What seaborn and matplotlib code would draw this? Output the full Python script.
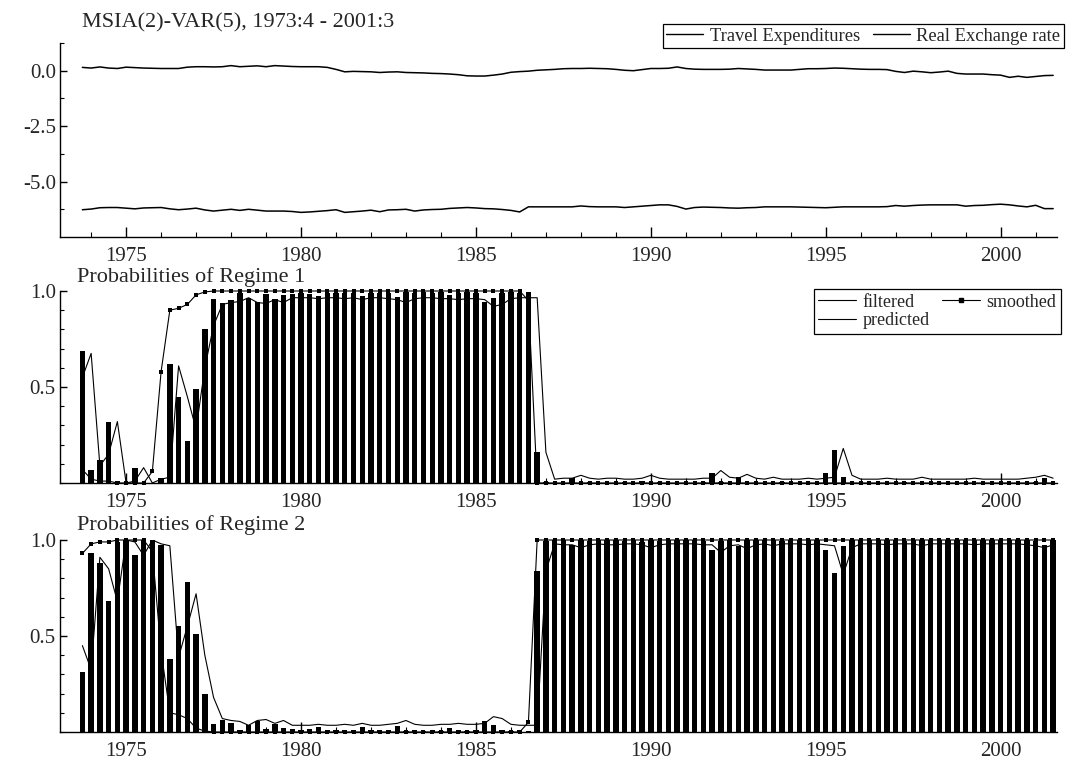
import numpy as np
import pandas as pd
import matplotlib
matplotlib.use("Agg")
import matplotlib.pyplot as plt
import seaborn as sns
from matplotlib.lines import Line2D
from matplotlib.ticker import MultipleLocator, FixedLocator, FixedFormatter

# ---------------- data (quarterly, 1973:4 - 2001:3) ----------------
first_quarter = 1973.75
n_quarters = 112
quarters = first_quarter + 0.25 * np.arange(n_quarters)

year_ticks = [1975, 1980, 1985, 1990, 1995, 2000]
year_labels = ["1975", "1980", "1985", "1990", "1995", "2000"]

real_exchange = [
    0.15,
    0.12, 0.17, 0.12, 0.10,
    0.16, 0.14, 0.12, 0.11,
    0.10, 0.10, 0.10, 0.16,
    0.18, 0.18, 0.17, 0.18,
    0.23, 0.18, 0.20, 0.22,
    0.18, 0.23, 0.21, 0.19,
    0.18, 0.18, 0.18, 0.15,
    0.06, -0.05, -0.03, -0.04,
    -0.05, -0.08, -0.06, -0.05,
    -0.08, -0.09, -0.10, -0.12,
    -0.13, -0.15, -0.18, -0.23,
    -0.24, -0.24, -0.20, -0.15,
    -0.07, -0.04, -0.02, 0.02,
    0.04, 0.06, 0.09, 0.10,
    0.10, 0.11, 0.10, 0.09,
    0.06, 0.02, 0.00, 0.05,
    0.10, 0.10, 0.11, 0.17,
    0.10, 0.07, 0.06, 0.06,
    0.06, 0.07, 0.10, 0.08,
    0.06, 0.03, 0.03, 0.03,
    0.03, 0.06, 0.09, 0.09,
    0.10, 0.12, 0.11, 0.09,
    0.07, 0.06, 0.06, 0.05,
    -0.03, -0.08, -0.02, -0.05,
    -0.09, -0.06, -0.02, -0.12,
    -0.15, -0.15, -0.15, -0.18,
    -0.20, -0.30, -0.25, -0.30,
    -0.26, -0.22, -0.21,
]

travel_exp = [
    -6.27,
    -6.24, -6.18, -6.17, -6.17,
    -6.20, -6.23, -6.19, -6.18,
    -6.17, -6.23, -6.27, -6.24,
    -6.20, -6.28, -6.33, -6.29,
    -6.25, -6.30, -6.25, -6.29,
    -6.33, -6.33, -6.33, -6.35,
    -6.39, -6.37, -6.34, -6.31,
    -6.27, -6.39, -6.36, -6.33,
    -6.29, -6.36, -6.28, -6.27,
    -6.25, -6.33, -6.28, -6.26,
    -6.25, -6.21, -6.19, -6.17,
    -6.19, -6.22, -6.23, -6.26,
    -6.30, -6.37, -6.14, -6.14,
    -6.14, -6.14, -6.14, -6.14,
    -6.10, -6.13, -6.14, -6.14,
    -6.14, -6.17, -6.14, -6.11,
    -6.08, -6.05, -6.05, -6.12,
    -6.24, -6.17, -6.15, -6.16,
    -6.17, -6.19, -6.20, -6.18,
    -6.17, -6.14, -6.14, -6.14,
    -6.14, -6.15, -6.16, -6.17,
    -6.18, -6.16, -6.14, -6.14,
    -6.14, -6.14, -6.14, -6.13,
    -6.08, -6.11, -6.08, -6.06,
    -6.05, -6.05, -6.05, -6.05,
    -6.11, -6.08, -6.07, -6.04,
    -6.02, -6.05, -6.10, -6.14,
    -6.07, -6.22, -6.22,
]

r1_filtered = [
    0.69,
    0.07, 0.12, 0.32, 0.01,
    0.00, 0.08, 0.00, 0.00,
    0.025, 0.62, 0.45, 0.22,
    0.49, 0.80, 0.96, 0.94,
    0.955, 0.99, 0.965, 0.945,
    0.985, 0.96, 0.98, 0.985,
    0.99, 0.985, 0.975, 0.99,
    0.99, 0.99, 0.99, 0.975,
    0.99, 0.99, 0.99, 0.97,
    0.995, 0.99, 0.995, 0.99,
    0.995, 0.98, 0.99, 0.995,
    0.99, 0.945, 0.965, 0.99,
    0.995, 0.99, 0.995, 0.16,
    0.005, 0.0, 0.0, 0.025,
    0.0, 0.005, 0.0, 0.0,
    0.0, 0.005, 0.0, 0.01,
    0.0, 0.005, 0.0, 0.0,
    0.0, 0.0, 0.005, 0.05,
    0.005, 0.0, 0.03, 0.0,
    0.0, 0.0, 0.0, 0.005,
    0.0, 0.0, 0.0, 0.0,
    0.05, 0.17, 0.03, 0.0,
    0.0, 0.0, 0.0, 0.0,
    0.0, 0.005, 0.0, 0.0,
    0.0, 0.0, 0.0, 0.0,
    0.0, 0.0, 0.0, 0.0,
    0.0, 0.0, 0.0, 0.0,
    0.005, 0.025, 0.0,
]

r1_predicted = [
    0.55,
    0.675, 0.09, 0.15, 0.32,
    0.0, 0.01, 0.08, 0.0,
    0.02, 0.03, 0.61, 0.45,
    0.28, 0.60, 0.82, 0.93,
    0.94, 0.945, 0.965, 0.94,
    0.935, 0.955, 0.94, 0.965,
    0.965, 0.965, 0.96, 0.965,
    0.965, 0.96, 0.965, 0.955,
    0.965, 0.965, 0.96, 0.955,
    0.94, 0.96, 0.965, 0.965,
    0.96, 0.96, 0.955, 0.96,
    0.96, 0.955, 0.92, 0.93,
    0.96, 0.965, 0.965, 0.965,
    0.16, 0.02, 0.025, 0.025,
    0.04, 0.025, 0.02, 0.025,
    0.025, 0.02, 0.02, 0.025,
    0.04, 0.025, 0.02, 0.02,
    0.02, 0.02, 0.025, 0.025,
    0.065, 0.03, 0.025, 0.045,
    0.025, 0.02, 0.03, 0.02,
    0.02, 0.02, 0.025, 0.02,
    0.025, 0.03, 0.18, 0.04,
    0.02, 0.02, 0.02, 0.025,
    0.02, 0.02, 0.02, 0.03,
    0.02, 0.02, 0.02, 0.02,
    0.02, 0.025, 0.02, 0.02,
    0.02, 0.02, 0.02, 0.025,
    0.03, 0.04, 0.025,
]

r1_smoothed = [
    0.07,
    0.02, 0.01, 0.01, 0.0,
    0.0, 0.0, 0.0, 0.06,
    0.58, 0.90, 0.91, 0.93,
    0.98, 0.995, 1.0, 1.0,
    1.0, 1.0, 1.0, 1.0,
    1.0, 1.0, 1.0, 1.0,
    1.0, 1.0, 1.0, 1.0,
    1.0, 1.0, 1.0, 1.0,
    1.0, 1.0, 1.0, 1.0,
    1.0, 1.0, 1.0, 1.0,
    1.0, 1.0, 1.0, 1.0,
    1.0, 1.0, 1.0, 1.0,
    1.0, 1.0, 0.95, 0.0,
    0.0, 0.0, 0.0, 0.0,
    0.0, 0.0, 0.0, 0.0,
    0.0, 0.0, 0.0, 0.0,
    0.0, 0.0, 0.0, 0.0,
    0.0, 0.0, 0.0, 0.0,
    0.0, 0.0, 0.0, 0.0,
    0.0, 0.0, 0.0, 0.0,
    0.0, 0.0, 0.0, 0.0,
    0.0, 0.0, 0.0, 0.0,
    0.0, 0.0, 0.0, 0.0,
    0.0, 0.0, 0.0, 0.0,
    0.0, 0.0, 0.0, 0.0,
    0.0, 0.0, 0.0, 0.0,
    0.0, 0.0, 0.0, 0.0,
    0.0, 0.0, 0.0,
]

r2_filtered = [
    0.31,
    0.93, 0.88, 0.68, 0.99,
    1.0, 0.92, 1.0, 1.0,
    0.975, 0.38, 0.55, 0.78,
    0.51, 0.20, 0.04, 0.06,
    0.045, 0.01, 0.035, 0.055,
    0.015, 0.04, 0.02, 0.015,
    0.01, 0.015, 0.025, 0.01,
    0.01, 0.01, 0.01, 0.025,
    0.01, 0.01, 0.01, 0.03,
    0.005, 0.01, 0.005, 0.01,
    0.005, 0.02, 0.01, 0.005,
    0.01, 0.055, 0.035, 0.01,
    0.005, 0.01, 0.005, 0.84,
    0.995, 1.0, 1.0, 0.975,
    1.0, 0.995, 1.0, 1.0,
    1.0, 0.995, 1.0, 0.99,
    1.0, 0.995, 1.0, 1.0,
    1.0, 1.0, 0.995, 0.95,
    0.995, 1.0, 0.97, 1.0,
    1.0, 1.0, 1.0, 0.995,
    1.0, 1.0, 1.0, 1.0,
    0.95, 0.83, 0.97, 1.0,
    1.0, 1.0, 1.0, 1.0,
    1.0, 0.995, 1.0, 1.0,
    1.0, 1.0, 1.0, 1.0,
    1.0, 1.0, 1.0, 1.0,
    1.0, 1.0, 1.0, 1.0,
    0.995, 0.975, 1.0,
]

r2_predicted = [
    0.45,
    0.325, 0.91, 0.85, 0.68,
    1.0, 0.99, 0.92, 1.0,
    0.98, 0.97, 0.39, 0.55,
    0.72, 0.40, 0.18, 0.07,
    0.06, 0.055, 0.035, 0.06,
    0.065, 0.045, 0.06, 0.035,
    0.035, 0.035, 0.04, 0.035,
    0.035, 0.04, 0.035, 0.045,
    0.035, 0.035, 0.04, 0.045,
    0.06, 0.04, 0.035, 0.035,
    0.04, 0.04, 0.045, 0.04,
    0.04, 0.045, 0.08, 0.07,
    0.04, 0.035, 0.035, 0.035,
    0.84, 0.98, 0.975, 0.975,
    0.96, 0.975, 0.98, 0.975,
    0.975, 0.98, 0.98, 0.975,
    0.96, 0.975, 0.98, 0.98,
    0.98, 0.98, 0.975, 0.975,
    0.935, 0.97, 0.975, 0.955,
    0.975, 0.98, 0.97, 0.98,
    0.98, 0.98, 0.975, 0.98,
    0.975, 0.97, 0.82, 0.96,
    0.98, 0.98, 0.98, 0.975,
    0.98, 0.98, 0.98, 0.97,
    0.98, 0.98, 0.98, 0.98,
    0.98, 0.975, 0.98, 0.98,
    0.98, 0.98, 0.98, 0.975,
    0.97, 0.96, 0.975,
]

r2_smoothed = [
    0.93,
    0.98, 0.99, 0.99, 1.0,
    1.0, 1.0, 1.0, 0.94,
    0.42, 0.10, 0.09, 0.07,
    0.02, 0.005, 0.0, 0.0,
    0.0, 0.0, 0.0, 0.0,
    0.0, 0.0, 0.0, 0.0,
    0.0, 0.0, 0.0, 0.0,
    0.0, 0.0, 0.0, 0.0,
    0.0, 0.0, 0.0, 0.0,
    0.0, 0.0, 0.0, 0.0,
    0.0, 0.0, 0.0, 0.0,
    0.0, 0.0, 0.0, 0.0,
    0.0, 0.0, 0.05, 1.0,
    1.0, 1.0, 1.0, 1.0,
    1.0, 1.0, 1.0, 1.0,
    1.0, 1.0, 1.0, 1.0,
    1.0, 1.0, 1.0, 1.0,
    1.0, 1.0, 1.0, 1.0,
    1.0, 1.0, 1.0, 1.0,
    1.0, 1.0, 1.0, 1.0,
    1.0, 1.0, 1.0, 1.0,
    1.0, 1.0, 1.0, 1.0,
    1.0, 1.0, 1.0, 1.0,
    1.0, 1.0, 1.0, 1.0,
    1.0, 1.0, 1.0, 1.0,
    1.0, 1.0, 1.0, 1.0,
    1.0, 1.0, 1.0, 1.0,
    1.0, 1.0, 1.0,
]

title_top = "MSIA(2)-VAR(5), 1973:4 - 2001:3"
title_r1 = "Probabilities of Regime 1"
title_r2 = "Probabilities of Regime 2"
series_names = ["Travel Expenditures", "Real Exchange rate"]
prob_names = ["filtered", "predicted", "smoothed"]

# ---------------- style ----------------
sns.set_style("white")
plt.rcParams["font.family"] = ["Liberation Serif", "DejaVu Serif"]
plt.rcParams["axes.unicode_minus"] = False

W, H = 1067, 762
fig = plt.figure(figsize=(W / 100, H / 100), dpi=100)


def add_ax(top_px, bottom_px, left_px=60, right_px=1057):
    return fig.add_axes([left_px / W, 1 - bottom_px / H,
                         (right_px - left_px) / W, (bottom_px - top_px) / H])


ax1 = add_ax(43, 237)
ax2 = add_ax(291, 483)
ax3 = add_ax(540, 732)

# ---------------- top panel ----------------
sns.lineplot(x=quarters, y=travel_exp, ax=ax1, color="black", linewidth=1.1)
sns.lineplot(x=quarters, y=real_exchange, ax=ax1, color="black", linewidth=1.1)
ax1.set_ylim(-7.5, 1.25)
ax1.yaxis.set_major_locator(FixedLocator([-5.0, -2.5, 0.0]))
ax1.yaxis.set_major_formatter(FixedFormatter(["-5.0", "-2.5", "0.0"]))
ax1.yaxis.set_minor_locator(FixedLocator([-6.25, -3.75, -1.25, 1.25]))


# ---------------- probability panels ----------------
def prob_panel(ax, filt, pred, smooth):
    sns.histplot(x=quarters, weights=filt, binwidth=0.25,
                 binrange=(first_quarter - 0.125, quarters[-1] + 0.125),
                 shrink=0.62, color="black", alpha=1, linewidth=0, ax=ax)
    sns.lineplot(x=quarters, y=pred, ax=ax, color="black", linewidth=0.8)
    sns.lineplot(x=quarters, y=smooth, ax=ax, color="black", linewidth=0.8,
                 marker="s", markersize=2.6, markeredgewidth=0,
                 markerfacecolor="black", clip_on=False)
    ax.set_ylim(0, 1.0)
    ax.yaxis.set_major_locator(FixedLocator([0.5, 1.0]))
    ax.yaxis.set_major_formatter(FixedFormatter(["0.5", "1.0"]))
    ax.yaxis.set_minor_locator(MultipleLocator(0.1))


prob_panel(ax2, r1_filtered, r1_predicted, r1_smoothed)
prob_panel(ax3, r2_filtered, r2_predicted, r2_smoothed)

for ax in (ax1, ax2, ax3):
    ax.set_xlim(1973.11, 2001.61)
    ax.set_xlabel("")
    ax.set_ylabel("")
    ax.set_facecolor("none")
    for side in ("top", "right"):
        ax.spines[side].set_visible(False)
    for side in ("left", "bottom"):
        ax.spines[side].set_color("black")
        ax.spines[side].set_linewidth(1.0)
    ax.xaxis.set_major_locator(FixedLocator(year_ticks))
    ax.xaxis.set_major_formatter(FixedFormatter(year_labels))
    ax.xaxis.set_minor_locator(MultipleLocator(1))
    ax.tick_params(axis="x", which="major", direction="in", length=7, width=1,
                   labelsize=15, pad=7, color="black", bottom=True)
    ax.tick_params(axis="x", which="minor", direction="in", length=3.5,
                   width=0.8, color="black", bottom=True)
    ax.tick_params(axis="y", which="major", direction="in", length=5, width=1,
                   labelsize=15, pad=3, color="black", left=True)
    ax.tick_params(axis="y", which="minor", direction="in", length=3,
                   width=0.8, color="black", left=True)

# ---------------- titles ----------------
fig.text(82 / W, 1 - 23 / H, title_top, fontsize=16, va="center", ha="left")
fig.text(77 / W, 1 - 277 / H, title_r1, fontsize=16, va="center", ha="left")
fig.text(77 / W, 1 - 525 / H, title_r2, fontsize=16, va="center", ha="left")

# ---------------- legends ----------------
h_top = [Line2D([], [], color="black", linewidth=1.0) for _ in series_names]
leg1 = fig.legend(h_top, series_names, loc="upper right",
                  bbox_to_anchor=(1064 / W, 1 - 24 / H), ncol=2,
                  frameon=True, fancybox=False, framealpha=1,
                  edgecolor="black", fontsize=13.3, handlelength=2.0,
                  handletextpad=0.35, columnspacing=0.7, borderpad=0.2,
                  borderaxespad=0)
leg1.get_frame().set_linewidth(0.9)

h_prob = [Line2D([], [], color="black", linewidth=0.8),
          Line2D([], [], color="black", linewidth=0.8),
          Line2D([], [], color="black", linewidth=0.8, marker="s",
                 markersize=2.6, markevery=[1, 2])]
h_prob[2].set_data([0, 0.33, 0.67, 1], [0, 0, 0, 0])
leg2 = fig.legend(h_prob, prob_names, loc="upper right",
                  bbox_to_anchor=(1061 / W, 1 - 289 / H), ncol=2,
                  frameon=True, fancybox=False, framealpha=1,
                  edgecolor="black", fontsize=13, handlelength=2.1,
                  handletextpad=0.35, columnspacing=0.7, borderpad=0.25,
                  labelspacing=0.1, borderaxespad=0)
leg2.get_frame().set_linewidth(0.9)

fig.savefig("out.png", dpi=100)
